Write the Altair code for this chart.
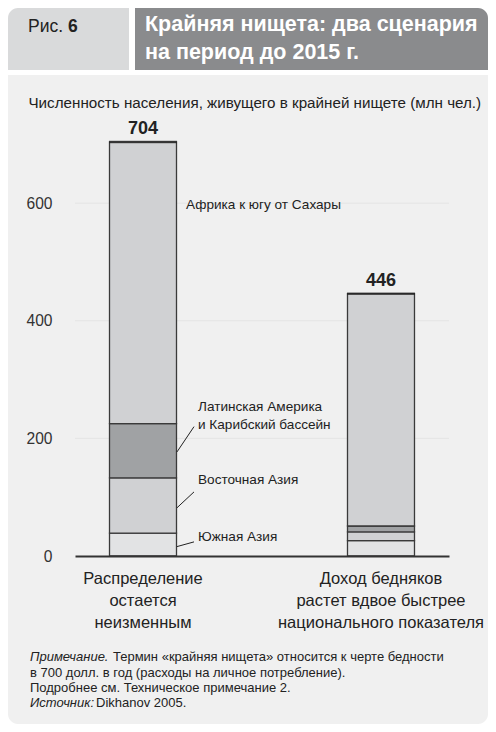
import altair as alt
import pandas as pd

# ---- data ----
scenarios = ["Распределение|остается|неизменным",
             "Доход бедняков|растет вдвое быстрее|национального показателя"]
regions = ["Южная Азия", "Восточная Азия", "Латинская Америка и Карибский бассейн",
           "Африка к югу от Сахары"]
values_unchanged = [39, 94, 92, 479]
values_faster = [26, 15, 10, 395]
totals = [704, 446]
region_colors = ["#e2e3e4", "#d0d1d3", "#a0a2a4", "#d0d1d3"]

y_ticks = [0, 200, 400, 600]

ann_labels = ["Африка к югу от Сахары", "Латинская Америка", "и Карибский бассейн",
              "Восточная Азия", "Южная Азия"]
ann_y = [597, 254, 222, 129, 33]
ann_x = [111, 123, 123, 123, 123]
leader_y1 = [177, 82, 16]
leader_y2 = [220, 109, 24]

FONT = "Liberation Sans, Arial, Helvetica, sans-serif"

rows = []
for si, (s, vals) in enumerate(zip(scenarios, [values_unchanged, values_faster])):
    for ri, (r, v) in enumerate(zip(regions, vals)):
        rows.append({"scenario": s, "region": r, "value": v, "idx": ri})
df = pd.DataFrame(rows)
tot_df = pd.DataFrame({"scenario": scenarios, "total": totals})
ann_df = pd.DataFrame({"label": ann_labels, "y": ann_y, "x": ann_x})
lead_df = pd.DataFrame({"y1": leader_y1, "y2": leader_y2})
grid_df = pd.DataFrame({"v": y_ticks[1:]})

W, H = 374, 414
x_scale = alt.Scale(domain=scenarios, paddingInner=0.7185, paddingOuter=0.145)
y_scale = alt.Scale(domain=[0, 704], nice=False)

dummy = alt.Data(values=[{"a": 1}])

def rect(x1, x2, y1, y2, color, **kw):
    return alt.Chart(dummy).mark_rect(color=color, **kw).encode(
        x=alt.value(x1), x2=alt.value(x2), y=alt.value(y1), y2=alt.value(y2))

def txt(s, x, y, size, bold=False, italic=False, color="#222", align="left"):
    return alt.Chart(dummy).mark_text(
        text=s, align=align, baseline="middle", fontSize=size, font=FONT,
        fontWeight="bold" if bold else "normal",
        fontStyle="italic" if italic else "normal", color=color
    ).encode(x=alt.value(x), y=alt.value(y))

panel = rect(-67, 413, -67, 582, "#f0f0f0",
             cornerRadiusBottomLeft=10, cornerRadiusBottomRight=10)
tab = rect(-67, 54, -134, -72, "#d9dadb", cornerRadiusTopLeft=10)
dark = rect(60, 413, -134, -72, "#8a8b8d", cornerRadiusTopRight=10)

header = [
    txt("Рис.", -47, -115, 17.5),
    txt("6", -7, -115, 17.5, bold=True),
    txt("Крайняя нищета: два сценария", 70, -117, 21.5, bold=True, color="white"),
    txt("на период до 2015 г.", 70, -89, 21.5, bold=True, color="white"),
]

notes = [
    txt("Примечание.", -45, 515, 13, italic=True),
    txt("Термин «крайняя нищета» относится к черте бедности", 38, 515, 13),
    txt("в 700 долл. в год (расходы на личное потребление).", -45, 531, 13),
    txt("Подробнее см. Техническое примечание 2.", -45, 546, 13),
    txt("Источник:", -45, 561, 13, italic=True),
    txt("Dikhanov 2005.", 21, 561, 13),
]

grid = alt.Chart(grid_df).mark_rule(color="#e4e4e4", strokeWidth=1).encode(
    x=alt.value(0), x2=alt.value(W),
    y=alt.Y("v:Q", scale=y_scale),
)

bars = alt.Chart(df).mark_bar(stroke="#3a3a3a", strokeWidth=1.3).encode(
    x=alt.X("scenario:N", scale=x_scale, sort=scenarios,
            axis=alt.Axis(title=None, labelAngle=0, ticks=False, labelExpr="split(datum.value, '|')",
                          labelFont=FONT, labelFontSize=16.5, labelColor="#222",
                          labelLineHeight=22, labelPadding=14, labelBaseline="top",
                          labelLimit=0,
                          domainColor="#333", domainWidth=2, grid=False, zindex=1)),
    y=alt.Y("value:Q", stack="zero", scale=y_scale,
            axis=alt.Axis(values=y_ticks, title="Численность населения, живущего в крайней нищете (млн чел.)",
                          titleAngle=0, titleX=-47, titleY=-40, titleAlign="left",
                          titleBaseline="middle", titleFont=FONT, titleFontSize=15.2,
                          titleFontWeight="normal", titleColor="#222", titleLimit=0,
                          labelFont=FONT, labelFontSize=15.6, labelColor="#333",
                          labelPadding=23, ticks=False, domain=False,
                          grid=False, zindex=1)),
    color=alt.Color("region:N", scale=alt.Scale(domain=regions, range=region_colors), legend=None),
    order=alt.Order("idx:Q"),
)

top_tick = alt.Chart(tot_df).mark_tick(color="#222", thickness=2.5, size=68).encode(
    x=alt.X("scenario:N", scale=x_scale, sort=scenarios),
    y=alt.Y("total:Q", scale=y_scale),
)
tot_text = alt.Chart(tot_df).mark_text(
    dy=-13, fontSize=18, fontWeight="bold", font=FONT, color="#222", baseline="middle"
).encode(
    x=alt.X("scenario:N", scale=x_scale, sort=scenarios),
    y=alt.Y("total:Q", scale=y_scale),
    text="total:Q",
)

ann = alt.Chart(ann_df).mark_text(
    align="left", baseline="middle", fontSize=13.6, font=FONT, color="#222"
).encode(
    x=alt.X("x:Q", scale=None),
    y=alt.Y("y:Q", scale=y_scale),
    text="label:N",
)

leads = alt.Chart(lead_df).mark_rule(color="#222", strokeWidth=1).encode(
    x=alt.value(102), x2=alt.value(119),
    y=alt.Y("y1:Q", scale=y_scale), y2="y2:Q",
)

chart = alt.layer(
    panel, tab, dark, *header, *notes, grid, bars, top_tick, tot_text, ann, leads
).properties(
    width=W, height=H,
    autosize=alt.AutoSizeParams(type="none"),
    padding={"left": 67, "top": 134, "right": 39, "bottom": 168},
    background="white",
).configure_view(stroke=None)

chart.save("out.html", embed_options={"renderer": "svg", "actions": False})
